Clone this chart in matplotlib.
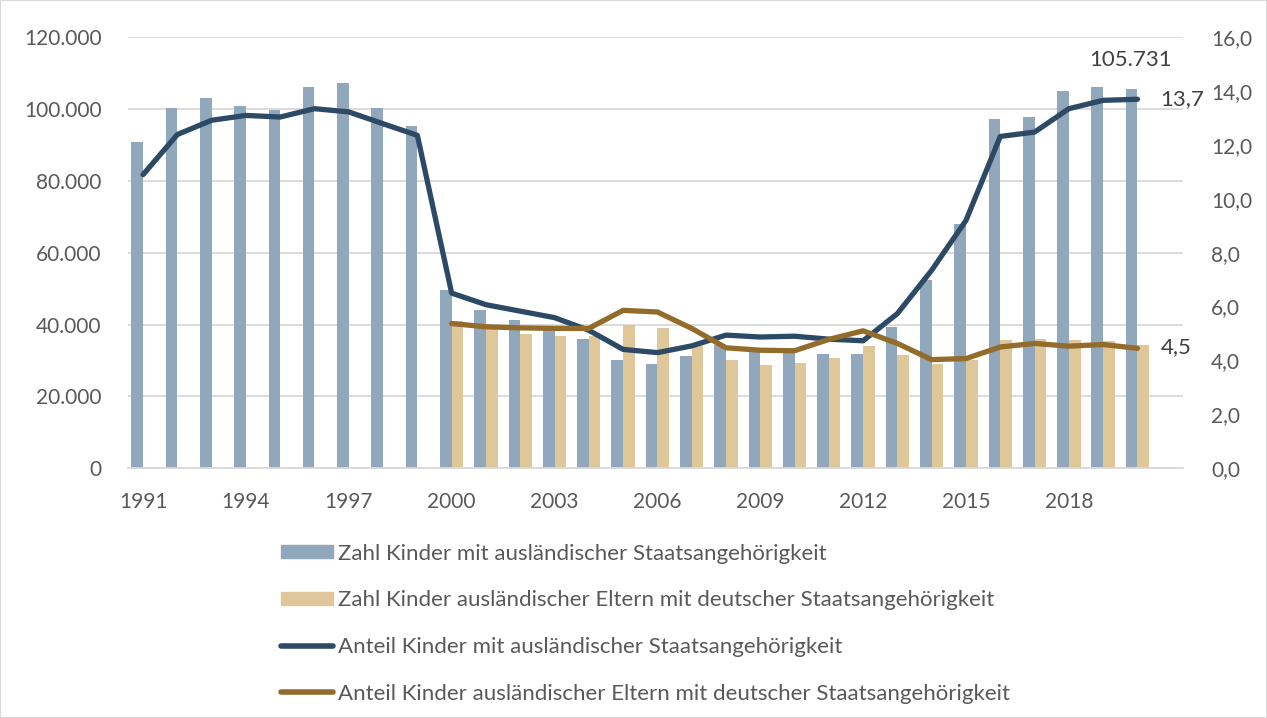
import matplotlib.pyplot as plt
import numpy as np
from matplotlib.ticker import FuncFormatter
from matplotlib.patches import Patch, Rectangle
from matplotlib.lines import Line2D

plt.rcParams['font.family'] = ['Lato', 'DejaVu Sans']

years = list(range(1991, 2021))
zahl_ausl = [90.8, 100.2, 103.0, 100.8, 99.7, 106.3, 107.2, 100.2, 95.2, 49.6,
             44.0, 41.2, 39.5, 36.0, 30.1, 29.0, 31.1, 34.2, 32.8, 32.8,
             31.7, 31.7, 39.3, 52.3, 67.9, 97.3, 97.7, 105.0, 106.3, 105.731]
zahl_dt = [None] * 9 + [40.9, 39.5, 37.3, 36.7, 36.7, 40.0, 38.9, 34.2, 30.2, 28.7,
                       29.2, 30.8, 34.1, 31.5, 29.0, 30.2, 35.6, 36.1, 35.6, 35.4, 34.4]
anteil_ausl = [10.9, 12.39, 12.92, 13.10, 13.04, 13.35, 13.23, 12.79, 12.36, 6.5,
               6.07, 5.83, 5.59, 5.12, 4.41, 4.29, 4.54, 4.94, 4.87, 4.90,
               4.79, 4.73, 5.74, 7.35, 9.2, 12.32, 12.48, 13.35, 13.66, 13.7]
anteil_dt = [None] * 9 + [5.37, 5.25, 5.21, 5.19, 5.19, 5.86, 5.80, 5.19, 4.47, 4.38,
                          4.36, 4.78, 5.10, 4.63, 4.03, 4.07, 4.50, 4.63, 4.53, 4.59, 4.45]

c_blue_bar = '#91a7bb'
c_beige_bar = '#e0c799'
c_blue_line = '#2c4a66'
c_brown_line = '#936b2a'
txt = '#595959'

fig = plt.figure(figsize=(12.67, 7.18), dpi=100)
ax = fig.add_axes([0.101, 0.348, 0.833, 0.6])
ax2 = ax.twinx()

x = np.arange(len(years))
w = 0.34
ax.bar(x - w / 2, [v * 1000 for v in zahl_ausl], width=w, color=c_blue_bar, zorder=2)
xd = [xi for xi, v in zip(x, zahl_dt) if v is not None]
ax.bar(np.array(xd) + w / 2, [v * 1000 for v in zahl_dt if v is not None], width=w,
       color=c_beige_bar, zorder=2)

ax2.plot(x, anteil_ausl, color=c_blue_line, lw=3.8, solid_capstyle='round', zorder=3)
ax2.plot(xd, [v for v in anteil_dt if v is not None], color=c_brown_line, lw=3.8,
         solid_capstyle='round', zorder=3)

ax.set_xlim(-0.44, 30.34)
ax.set_ylim(0, 120000)
ax2.set_ylim(0, 16)
ax.set_yticks(range(0, 120001, 20000))
ax2.set_yticks(range(0, 17, 2))
ax.yaxis.set_major_formatter(FuncFormatter(lambda v, p: f'{int(v):,}'.replace(',', '.')))
ax2.yaxis.set_major_formatter(FuncFormatter(lambda v, p: f'{v:.1f}'.replace('.', ',')))
ax.set_xticks(x[::3])
ax.set_xticklabels(years[::3])

ax.grid(axis='y', color='#d9d9d9', lw=1.3, zorder=0)
ax.set_axisbelow(True)
for a in (ax, ax2):
    for s in a.spines.values():
        s.set_visible(False)
    a.tick_params(length=0, labelsize=15, colors=txt)
ax.spines['bottom'].set_visible(True)
ax.spines['bottom'].set_color('#d9d9d9')
ax.spines['bottom'].set_linewidth(1.3)
ax.tick_params(axis='y', pad=19)
ax.tick_params(axis='x', pad=17)
ax2.tick_params(axis='y', pad=20)

# Datenbeschriftungen
ax.text(x[-1] - 0.2, 113800, '105.731', ha='center', va='center', fontsize=16, color='#404040')
ax2.text(x[-1] + 0.67, anteil_ausl[-1], '13,7', ha='left', va='center', fontsize=16,
         color='#404040')
ax2.text(x[-1] + 0.67, anteil_dt[-1] + 0.05, '4,5', ha='left', va='center', fontsize=16,
         color='#404040')

handles = [Patch(color=c_blue_bar), Patch(color=c_beige_bar),
           Line2D([], [], color=c_blue_line, lw=4, solid_capstyle='round'),
           Line2D([], [], color=c_brown_line, lw=4, solid_capstyle='round')]
labels = ['Zahl Kinder mit ausländischer Staatsangehörigkeit',
          'Zahl Kinder ausländischer Eltern mit deutscher Staatsangehörigkeit',
          'Anteil Kinder mit ausländischer Staatsangehörigkeit',
          'Anteil Kinder ausländischer Eltern mit deutscher Staatsangehörigkeit']
leg = fig.legend(handles, labels, loc='upper left', bbox_to_anchor=(0.222, 0.243),
                 frameon=False, fontsize=16, labelspacing=1.2, handlelength=2.35,
                 handleheight=0.55, handletextpad=0.2, labelcolor=txt,
                 borderpad=0, borderaxespad=0)

fig.patches.append(Rectangle((0, 0), 1, 1, transform=fig.transFigure, fill=False,
                             edgecolor='#d9d9d9', lw=1.5))

fig.savefig('out.png', dpi=100)
